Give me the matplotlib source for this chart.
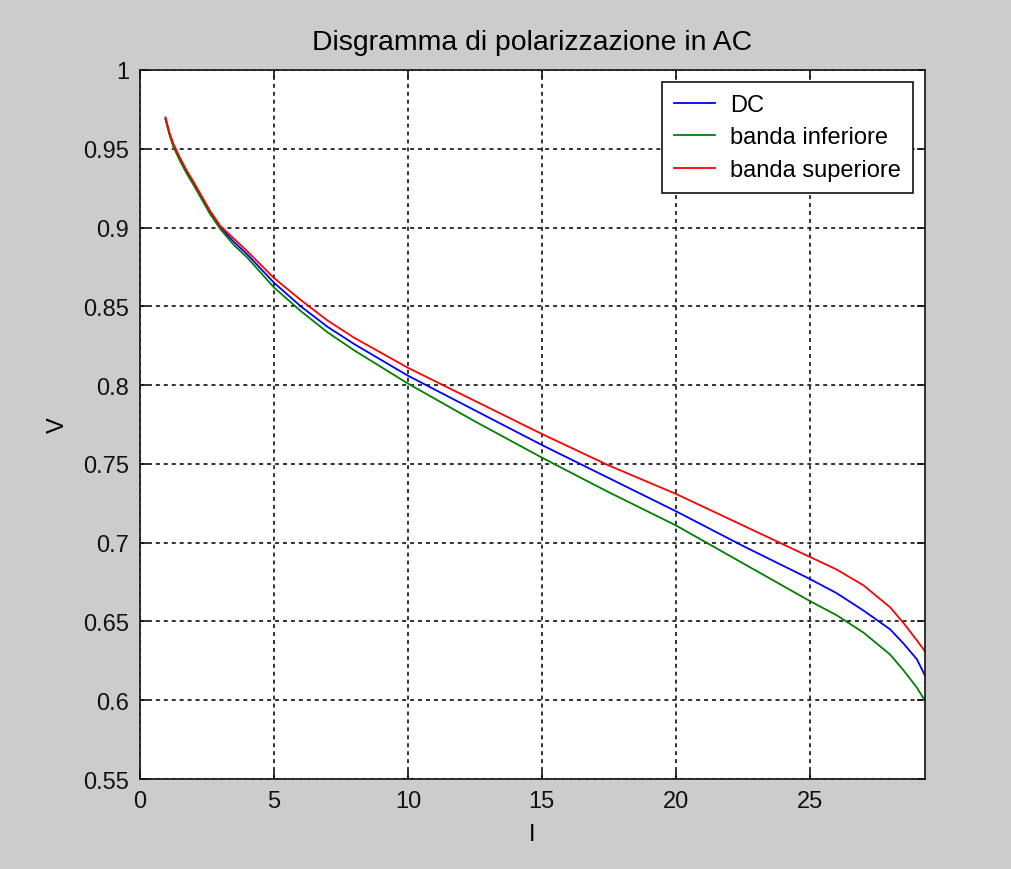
import matplotlib.pyplot as plt
from matplotlib.ticker import FixedLocator

# current values (A) and voltages (V) for the three curves
corrente = [0.95, 1.1, 1.25, 1.5, 1.75, 2.0, 2.3, 2.6, 3.0, 3.5, 4, 5, 6, 7,
            8, 10, 12.5, 15, 17.5, 20, 22.5, 25, 26, 27, 28, 28.5, 29, 29.3]
v_dc = [0.969, 0.9595, 0.952, 0.943, 0.935, 0.928, 0.919, 0.910, 0.900,
        0.891, 0.883, 0.865, 0.850, 0.837, 0.826, 0.806, 0.784, 0.762,
        0.741, 0.720, 0.698, 0.677, 0.668, 0.657, 0.645, 0.636, 0.626,
        0.6156]
v_inf = [0.969, 0.9590, 0.951, 0.942, 0.934, 0.927, 0.918, 0.909, 0.899,
         0.889, 0.881, 0.862, 0.847, 0.8335, 0.822, 0.801, 0.777, 0.754,
         0.732, 0.711, 0.687, 0.663, 0.654, 0.643, 0.629, 0.619, 0.608,
         0.5997]
v_sup = [0.970, 0.9600, 0.953, 0.944, 0.936, 0.929, 0.920, 0.911, 0.901,
         0.893, 0.885, 0.868, 0.854, 0.841, 0.830, 0.811, 0.790, 0.769,
         0.749, 0.731, 0.711, 0.691, 0.683, 0.673, 0.659, 0.649, 0.638,
         0.631]

x_ticks = [0, 5, 10, 15, 20, 25]
y_ticks = [0.55, 0.6, 0.65, 0.7, 0.75, 0.8, 0.85, 0.9, 0.95, 1]
y_ticklabels = ['0.55', '0.6', '0.65', '0.7', '0.75', '0.8', '0.85', '0.9', '0.95', '1']

plt.rcParams['font.family'] = ['Liberation Sans', 'DejaVu Sans']
plt.rcParams['font.size'] = 17

fig = plt.figure(figsize=(10.11, 8.70), dpi=100, facecolor='#cccccc')
ax = fig.add_axes([0.1385, 0.1034, 0.7764, 0.815])
ax.set_facecolor('white')

ax.plot(corrente, v_dc, color=(0, 0, 1), lw=1.3, label='DC')
ax.plot(corrente, v_inf, color=(0, 0.5, 0), lw=1.3, label='banda inferiore')
ax.plot(corrente, v_sup, color=(1, 0, 0), lw=1.3, label='banda superiore')

ax.set_xlim(0, 29.3)
ax.set_ylim(0.55, 1)
ax.xaxis.set_major_locator(FixedLocator(x_ticks))
ax.set_yticks(y_ticks)
ax.set_yticklabels(y_ticklabels)
ax.tick_params(direction='in', length=6, width=1.2, top=True, right=True,
               colors='#111111', pad=8)

ax.grid(True, color='#222222', linestyle=(0, (2.2, 2.2)), linewidth=1.3)
for s in ax.spines.values():
    s.set_linewidth(1.2)
    s.set_color('#111111')

ax.set_title('Disgramma di polarizzazione in AC', pad=15)
ax.set_xlabel('I', labelpad=8)
ax.set_ylabel('V', labelpad=10)

leg = ax.legend(loc='upper right', bbox_to_anchor=(0.9847, 0.983),
                borderaxespad=0, fancybox=False, framealpha=1,
                edgecolor='#111111', handlelength=1.75, handletextpad=0.65,
                borderpad=0.5, labelspacing=0.45)
leg.get_frame().set_linewidth(1.2)

fig.savefig('out.png', dpi=100, facecolor=fig.get_facecolor())
